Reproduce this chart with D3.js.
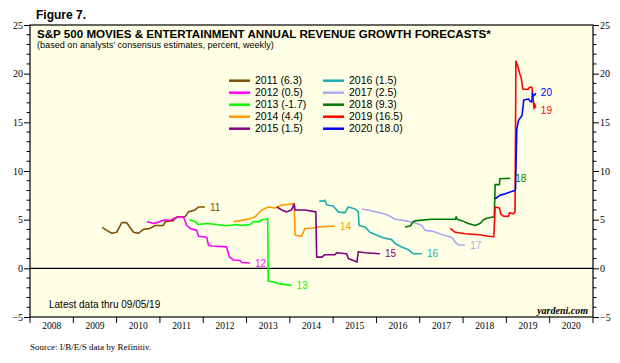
<!DOCTYPE html>
<html>
<head>
<meta charset="utf-8">
<script src="https://cdn.jsdelivr.net/npm/d3@7"></script>
<style>
  body { margin: 0; background: #fff; }
  svg { display: block; }
</style>
</head>
<body>
<div id="chart"></div>
<script>
// year bands along the bottom
const years = [2008, 2009, 2010, 2011, 2012, 2013, 2014, 2015, 2016, 2017, 2018, 2019, 2020];
const yTicks = [-5, 0, 5, 10, 15, 20, 25];

// legend entries and the short labels at the line ends
const legendNames = ["2011 (6.3)", "2012 (0.5)", "2013 (-1.7)", "2014 (4.4)", "2015 (1.5)",
                     "2016 (1.5)", "2017 (2.5)", "2018 (9.3)", "2019 (16.5)", "2020 (18.0)"];
const endLabels = ["11", "12", "13", "14", "15", "16", "17", "18", "19", "20"];
const colors = ["#7f5000", "#ff00ff", "#00ff00", "#ff9900", "#800080",
                "#1aaeae", "#aaaaee", "#007800", "#ff0000", "#0000ff"];

// consensus forecasts, [decimal year, percent]
const s2011 = [[2009.67,4.2],[2009.77,3.9],[2009.89,3.6],[2010.00,3.7],[2010.12,4.7],[2010.23,4.7],
  [2010.31,4.2],[2010.39,3.7],[2010.50,3.6],[2010.62,4.0],[2010.77,4.1],[2010.89,4.4],[2011.08,4.4],
  [2011.12,4.8],[2011.31,4.9],[2011.39,5.3],[2011.58,5.3],[2011.66,5.8],[2011.81,6.0],[2011.89,6.3],[2012.04,6.3]];
const s2012 = [[2010.70,4.8],[2010.85,4.6],[2011.00,4.8],[2011.12,5.0],[2011.23,4.9],[2011.35,5.2],
  [2011.54,5.3],[2011.62,4.4],[2011.70,4.1],[2011.85,3.9],[2011.89,3.3],[2012.08,3.2],[2012.12,2.4],
  [2012.20,2.3],[2012.54,2.2],[2012.60,1.2],[2012.70,0.85],[2012.85,0.8],[2012.89,0.6],[2013.08,0.55]];
const s2013 = [[2011.68,5.0],[2011.81,4.8],[2011.89,4.5],[2012.08,4.6],[2012.31,4.5],[2012.46,4.4],
  [2012.62,4.4],[2012.77,4.5],[2012.89,4.4],[2013.08,4.5],[2013.16,4.8],[2013.31,4.8],[2013.35,5.0],
  [2013.49,5.1],[2013.50,-1.3],[2013.62,-1.4],[2013.77,-1.6],[2014.04,-1.75]];
const s2014 = [[2012.70,4.8],[2012.85,4.9],[2013.08,5.1],[2013.20,5.3],[2013.35,6.0],[2013.50,6.3],
  [2013.66,6.2],[2013.81,6.5],[2013.93,6.55],[2014.10,6.65],[2014.12,3.4],[2014.27,3.3],[2014.35,4.1],
  [2014.54,4.15],[2014.66,4.25],[2015.04,4.35]];
const s2015 = [[2013.70,6.3],[2013.81,6.0],[2013.93,5.8],[2014.04,6.0],[2014.10,6.6],[2014.12,6.0],
  [2014.35,6.0],[2014.60,5.8],[2014.62,1.15],[2014.74,1.15],[2014.81,1.4],[2015.04,1.4],[2015.08,1.6],
  [2015.31,1.5],[2015.35,1.0],[2015.55,0.65],[2015.58,1.7],[2015.74,1.6],[2016.08,1.5]];
const s2016 = [[2014.68,6.9],[2014.77,6.9],[2014.81,7.0],[2014.85,6.5],[2015.00,6.4],[2015.12,5.8],
  [2015.27,5.7],[2015.35,6.3],[2015.51,6.1],[2015.58,5.8],[2015.60,4.4],[2015.74,4.25],[2015.85,3.7],
  [2016.01,3.4],[2016.16,3.15],[2016.35,2.95],[2016.43,2.55],[2016.58,2.2],[2016.74,1.9],[2016.85,1.5],[2017.05,1.5]];
const s2017 = [[2015.66,6.1],[2015.85,5.95],[2016.08,5.7],[2016.27,5.45],[2016.43,5.05],[2016.66,4.9],
  [2016.93,4.6],[2017.05,4.4],[2017.12,3.9],[2017.31,3.8],[2017.55,3.4],[2017.74,3.2],[2017.82,2.7],
  [2017.89,2.4],[2018.05,2.4]];
const s2018 = [[2016.66,4.25],[2016.78,4.35],[2016.85,4.8],[2016.93,4.9],[2017.28,5.05],[2017.82,5.05],
  [2017.84,5.3],[2017.86,5.05],[2017.97,4.9],[2018.12,4.6],[2018.28,4.4],[2018.39,4.6],[2018.47,5.0],
  [2018.55,5.15],[2018.66,5.25],[2018.72,5.3],[2018.74,8.6],[2018.84,8.6],[2018.85,9.2],[2019.09,9.25]];
const s2019 = [[2017.70,4.1],[2017.82,3.7],[2018.05,3.55],[2018.39,3.45],[2018.58,3.3],[2018.71,3.25],
  [2018.74,6.3],[2018.84,6.2],[2018.87,5.6],[2018.93,5.35],[2019.05,5.35],[2019.07,5.7],[2019.16,5.6],
  [2019.20,5.8],[2019.22,21.3],[2019.28,20.5],[2019.32,19.8],[2019.34,19.65],[2019.38,18.4],[2019.51,18.4],
  [2019.53,18.6],[2019.59,18.6],[2019.61,17.8],[2019.64,16.4],[2019.65,16.9],[2019.68,16.5]];
const s2020 = [[2018.74,7.15],[2018.85,7.5],[2018.97,7.65],[2019.09,7.85],[2019.19,8.0],[2019.21,8.1],
  [2019.24,14.3],[2019.28,15.2],[2019.36,15.7],[2019.38,16.4],[2019.40,17.3],[2019.51,17.4],[2019.55,17.15],
  [2019.59,17.1],[2019.60,18.0],[2019.62,17.7],[2019.66,17.85],[2019.68,18.0]];

const allSeries = [s2011, s2012, s2013, s2014, s2015, s2016, s2017, s2018, s2019, s2020];

const W = 620, H = 363;
const plot = { left: 30, right: 593, top: 25, bottom: 317 };

const svg = d3.select("#chart").append("svg")
    .attr("width", W)
    .attr("height", H);

const x = d3.scaleLinear().domain([2008, 2021]).range([plot.left, plot.right]);
const y = d3.scaleLinear().domain([-5, 25]).range([plot.bottom, plot.top]);

// panel background
svg.append("rect")
    .attr("x", plot.left).attr("y", plot.top)
    .attr("width", plot.right - plot.left).attr("height", plot.bottom - plot.top)
    .attr("fill", "#ffffe5");

// left and right value axes, with minor ticks every 1
const minor = d3.range(-5, 26, 1).filter(d => d % 5 !== 0);
function valueAxis(axisFn, xPos, anchor, dx) {
  const g = svg.append("g").attr("transform", `translate(${xPos},0)`);
  g.call(axisFn(y).tickValues(yTicks).tickSize(6).tickFormat(d3.format("d")));
  g.selectAll(".minor").data(minor).enter().append("line")
      .attr("x1", 0).attr("x2", anchor === "end" ? -3.5 : 3.5)
      .attr("y1", d => y(d)).attr("y2", d => y(d))
      .attr("stroke", "#000");
  g.select(".domain").remove();
  g.selectAll(".tick text")
      .attr("font-family", "'Liberation Serif', 'Times New Roman', serif")
      .attr("font-size", 10)
      .attr("fill", "#000")
      .attr("x", dx)
      .style("text-anchor", anchor);
  return g;
}
valueAxis(d3.axisLeft, plot.left, "end", -7);
valueAxis(d3.axisRight, plot.right, "start", 7);

// bottom axis: ticks at year boundaries, labels centred in each year
const xAxis = svg.append("g").attr("transform", `translate(0,${plot.bottom})`);
xAxis.selectAll("line").data(d3.range(2008, 2022)).enter().append("line")
    .attr("x1", d => x(d)).attr("x2", d => x(d))
    .attr("y1", 0).attr("y2", 6)
    .attr("stroke", "#000");
xAxis.selectAll("text").data(years).enter().append("text")
    .attr("x", d => x(d + 0.5))
    .attr("y", 12)
    .attr("text-anchor", "middle")
    .attr("font-family", "'Liberation Serif', 'Times New Roman', serif")
    .attr("font-size", 9.5)
    .text(d => d);

// zero line
svg.append("line")
    .attr("x1", plot.left).attr("x2", plot.right)
    .attr("y1", y(0)).attr("y2", y(0))
    .attr("stroke", "#000").attr("stroke-width", 1.3);

// the forecast lines
const line = d3.line().x(d => x(d[0])).y(d => y(d[1]));
svg.append("g").selectAll("path")
  .data(allSeries)
  .enter().append("path")
    .attr("d", line)
    .attr("fill", "none")
    .attr("stroke", (d, i) => colors[i])
    .attr("stroke-width", 1.6)
    .attr("stroke-linejoin", "round");

// end labels (19 sits a little lower than its end point)
const labelNudge = [0, 0, 0, 0, 0, 0, 0, 0, 3, -1];
svg.append("g").selectAll("text")
  .data(allSeries)
  .enter().append("text")
    .attr("x", d => x(d[d.length - 1][0]) + 5)
    .attr("y", (d, i) => y(d[d.length - 1][1]) + labelNudge[i])
    .attr("dy", "0.36em")
    .attr("font-family", "'Liberation Sans', Arial, sans-serif")
    .attr("font-size", 10)
    .attr("fill", (d, i) => colors[i])
    .text((d, i) => endLabels[i]);

// panel frame
svg.append("rect")
    .attr("x", plot.left).attr("y", plot.top)
    .attr("width", plot.right - plot.left).attr("height", plot.bottom - plot.top)
    .attr("fill", "none").attr("stroke", "#000").attr("stroke-width", 1.2);

// legend, two columns of five
const legend = svg.append("g");
const leg = legend.selectAll("g").data(legendNames).enter().append("g")
    .attr("transform", (d, i) => `translate(${i < 5 ? 229 : 323},${80.7 + (i % 5) * 12})`);
leg.append("line")
    .attr("x1", 0).attr("x2", 21)
    .attr("stroke", (d, i) => colors[i]).attr("stroke-width", 2.5);
leg.append("text")
    .attr("x", 26).attr("dy", "0.36em")
    .attr("font-family", "'Liberation Sans', Arial, sans-serif")
    .attr("font-size", 10.5)
    .text(d => d);

// titles and notes
const sans = "'Liberation Sans', Arial, sans-serif";
svg.append("text").attr("x", 36).attr("y", 19)
    .attr("font-family", sans).attr("font-weight", "bold").attr("font-size", 12)
    .text("Figure 7.");
svg.append("text").attr("x", 37).attr("y", 38)
    .attr("font-family", sans).attr("font-weight", "bold").attr("font-size", 11.6)
    .text("S&P 500 MOVIES & ENTERTAINMENT ANNUAL REVENUE GROWTH FORECASTS*");
svg.append("text").attr("x", 37).attr("y", 48)
    .attr("font-family", sans).attr("font-size", 9.1)
    .text("(based on analysts’ consensus estimates, percent, weekly)");
svg.append("text").attr("x", 49).attr("y", 308)
    .attr("font-family", sans).attr("font-size", 10)
    .text("Latest data thru 09/05/19");
svg.append("text").attr("x", 588).attr("y", 314)
    .attr("text-anchor", "end")
    .attr("font-family", "'Liberation Serif', 'Times New Roman', serif")
    .attr("font-style", "italic").attr("font-weight", "bold").attr("font-size", 10)
    .text("yardeni.com");
svg.append("text").attr("x", 30).attr("y", 350)
    .attr("font-family", "'Liberation Serif', 'Times New Roman', serif")
    .attr("font-size", 9)
    .text("Source: I/B/E/S data by Refinitiv.");
</script>
</body>
</html>
